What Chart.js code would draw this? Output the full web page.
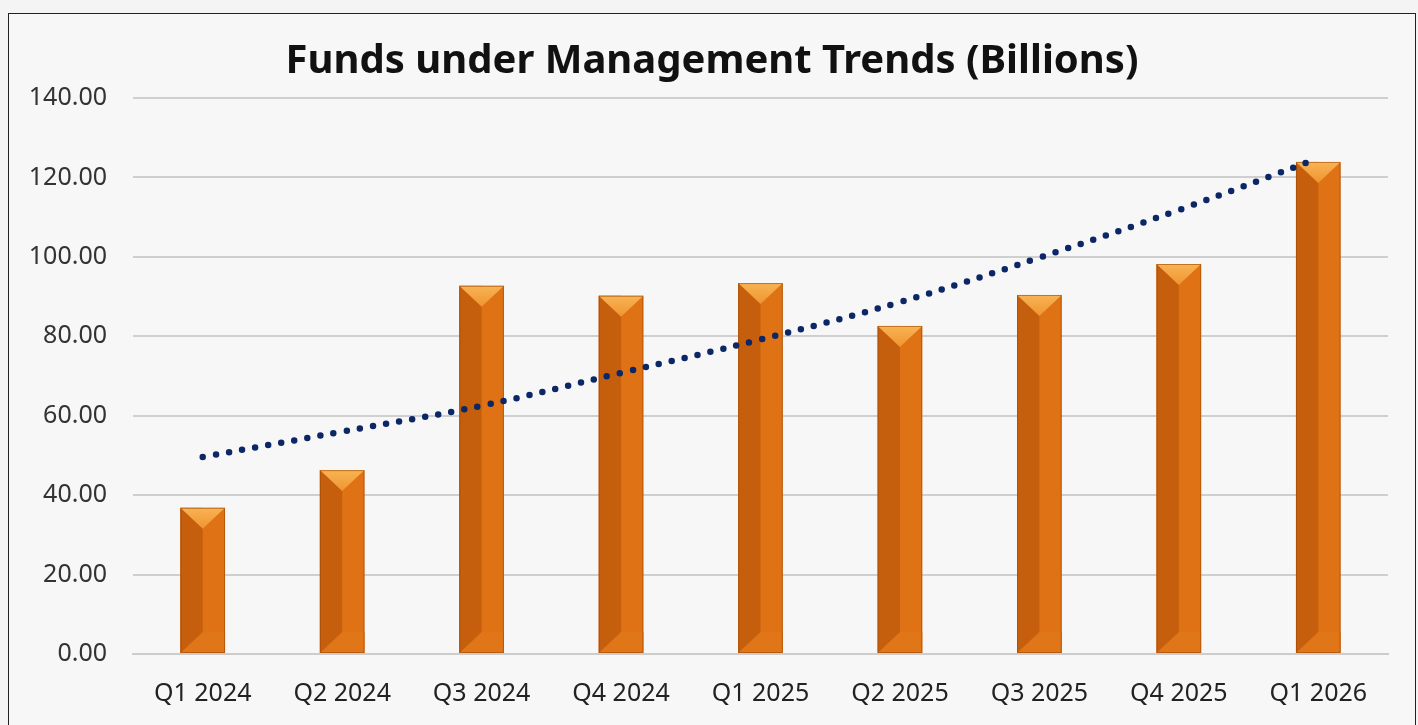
<!DOCTYPE html>
<html>
<head>
<meta charset="utf-8">
<script src="https://cdn.jsdelivr.net/npm/chart.js@4"></script>
<style>
  html, body { margin: 0; padding: 0; background: #f4f4f4; overflow: hidden; }
  #frame {
    position: absolute; left: 8px; top: 13px;
    width: 1406px; height: 720px;
    border: 1px solid #222; background: #f7f7f7;
  }
</style>
</head>
<body>
<div id="frame"><canvas id="chart" width="1406" height="711"></canvas></div>
<script>
const categories = ["Q1 2024", "Q2 2024", "Q3 2024", "Q4 2024", "Q1 2025", "Q2 2025", "Q3 2025", "Q4 2025", "Q1 2026"];
const funds = [36.8, 46.3, 92.7, 90.2, 93.4, 82.6, 90.4, 98.2, 123.9];
const trend = [49.6, 56.0, 62.5, 70.8, 79.2, 88.6, 99.8, 111.8, 124.8];
const yTicks = [0, 20, 40, 60, 80, 100, 120, 140];

const font = "'Noto Sans', sans-serif";

// paints the bevelled look over each bar
const bevel = {
    id: "bevel",
    afterDatasetDraw(chart, args) {
        if (args.index !== 0) return;
        const ctx = chart.ctx;
        args.meta.data.forEach(bar => {
            const p = bar.getProps(["x", "y", "base", "width"], true);
            const l = p.x - p.width / 2, r = p.x + p.width / 2;
            const t = p.y, b = p.base;
            const d = p.width * 0.47;
            ctx.save();
            // left half
            ctx.fillStyle = "#c55f0d";
            ctx.fillRect(l, t, p.width / 2, b - t);
            // bottom bevel
            ctx.fillStyle = "#e07617";
            ctx.beginPath();
            ctx.moveTo(l, b);
            ctx.lineTo(p.x, b - d);
            ctx.lineTo(r, b - d);
            ctx.lineTo(r, b);
            ctx.closePath();
            ctx.fill();
            // top bevel
            const g = ctx.createLinearGradient(0, t, 0, t + d);
            g.addColorStop(0, "#f8b454");
            g.addColorStop(1, "#f09431");
            ctx.fillStyle = g;
            ctx.beginPath();
            ctx.moveTo(l, t);
            ctx.lineTo(r, t);
            ctx.lineTo(p.x, t + d);
            ctx.closePath();
            ctx.fill();
            ctx.strokeStyle = "rgba(160,70,0,0.6)";
            ctx.lineWidth = 1;
            ctx.strokeRect(l + 0.5, t + 0.5, p.width - 1, b - t - 1);
            ctx.restore();
        });
    }
};

new Chart(document.getElementById("chart"), {
    data: {
        labels: categories,
        datasets: [
            {
                type: "bar",
                label: "Funds",
                data: funds,
                order: 1,
                backgroundColor: "#de7214",
                borderWidth: 0,
                barPercentage: 0.32,
                categoryPercentage: 1
            },
            {
                type: "line",
                label: "Trend",
                data: trend,
                order: 0,
                borderColor: "#0c2766",
                borderWidth: 6.5,
                borderDash: [0, 13.3],
                borderCapStyle: "round",
                pointRadius: 0,
                tension: 0.4,
                fill: false
            }
        ]
    },
    options: {
        responsive: false,
        animation: false,
        layout: { padding: 0 },
        plugins: {
            legend: { display: false },
            tooltip: { enabled: false },
            title: {
                display: true,
                text: "Funds under Management Trends (Billions)",
                color: "#111",
                font: { family: font, size: 40, weight: "bold" },
                padding: { top: 24, bottom: 12 }
            }
        },
        scales: {
            x: {
                grid: { display: false },
                border: { color: "#cccccc", width: 2 },
                ticks: { color: "#222", font: { family: font, size: 25 }, padding: 17 },
                afterFit(scale) { scale.height = 71; }
            },
            y: {
                min: 0,
                max: 140,
                afterBuildTicks(scale) { scale.ticks = yTicks.map(v => ({ value: v })); },
                grid: { color: "#cfcfcf", lineWidth: 2, drawTicks: false },
                border: { display: false },
                ticks: {
                    color: "#333",
                    font: { family: font, size: 25 },
                    padding: 26,
                    callback: v => Number(v).toFixed(2)
                },
                afterFit(scale) { scale.width = 124; }
            },
            // empty right-hand axis, only keeps the margin so the title stays centred
            yRight: {
                position: "right",
                display: true,
                grid: { display: false, drawTicks: false },
                border: { display: false },
                ticks: { display: false },
                afterFit(scale) { scale.width = 27; }
            }
        }
    },
    plugins: [bevel]
});
</script>
</body>
</html>
